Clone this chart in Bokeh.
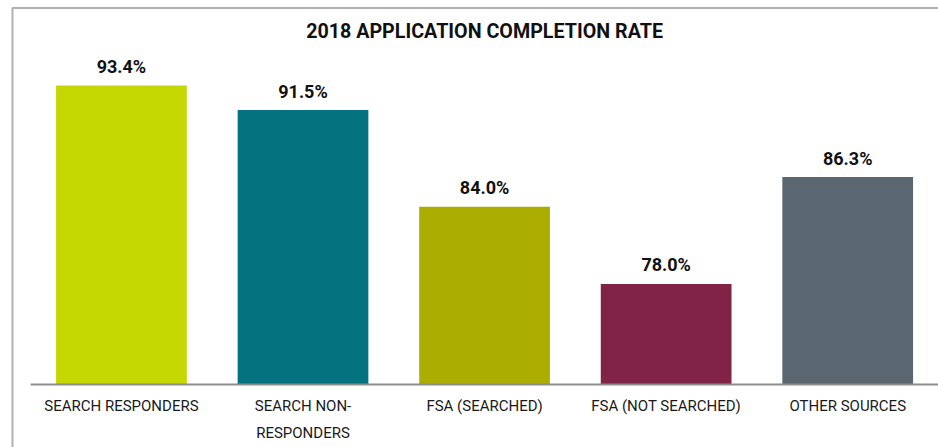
from bokeh.plotting import figure
from bokeh.models import Range1d, Label, ColumnDataSource
from bokeh.core.properties import value
from bokeh.embed import file_html
from bokeh.resources import INLINE

# ---- data ----
title_text = "2018 APPLICATION COMPLETION RATE"
categories = ["SEARCH RESPONDERS", "SEARCH NON-\nRESPONDERS", "FSA (SEARCHED)",
              "FSA (NOT SEARCHED)", "OTHER SOURCES"]
rates = [93.4, 91.5, 84.0, 78.0, 86.3]
colors = ["#c5d700", "#04737f", "#abae00", "#802346", "#5a6670"]
axis_floor = 70.2

FONT = "Roboto"

xs = list(range(len(categories)))
src = ColumnDataSource(dict(
    x=xs, top=rates, color=colors, cat=categories,
    label=[f"{r:.1f}%" for r in rates],
))

x_range = Range1d(-0.666, len(categories) - 0.5)
y_range = Range1d(65.31, 100.0)
frame_left = -0.6     # chart box edge
frame_top = 99.42

p = figure(width=938, height=447, x_range=x_range, y_range=y_range,
           output_backend="svg", toolbar_location=None,
           x_axis_location=None, y_axis_location=None,
           min_border=0)
p.title.visible = False
p.grid.visible = False
p.outline_line_color = None
p.background_fill_color = "white"
p.border_fill_color = "white"

# chart box border (left & top)
p.line(x=[frame_left, frame_left, x_range.end + 0.1],
       y=[y_range.start - 1, frame_top, frame_top],
       line_color="#b0b0b0", line_width=2)

p.vbar(x="x", top="top", bottom=axis_floor, width=0.72, fill_color="color",
       line_color=None, source=src)

# baseline
p.segment(x0=xs[0] - 0.5, x1=xs[-1] + 0.5, y0=axis_floor, y1=axis_floor,
          line_color="#8c8c8c", line_width=2)

# value labels
p.text(x="x", y="top", text="label", y_offset=-19, text_align="center",
       text_baseline="middle", text_font=value(FONT), text_font_style="bold",
       text_font_size="18px", text_color="#111111", source=src)

# category labels
p.text(x="x", y=axis_floor, text="cat", y_offset=13, text_align="center",
       text_baseline="top", text_font=value(FONT), text_font_size="15px",
       text_line_height=1.45, text_color="#1a1a1a", source=src)

# title
p.add_layout(Label(x=(xs[0] + xs[-1]) / 2, y=416, y_units="screen",
                   text=title_text, text_align="center", text_baseline="middle",
                   text_font=FONT, text_font_style="bold",
                   text_font_size="19.7px", text_color="#111111"))

open("out.html", "w").write(file_html(p, INLINE))
